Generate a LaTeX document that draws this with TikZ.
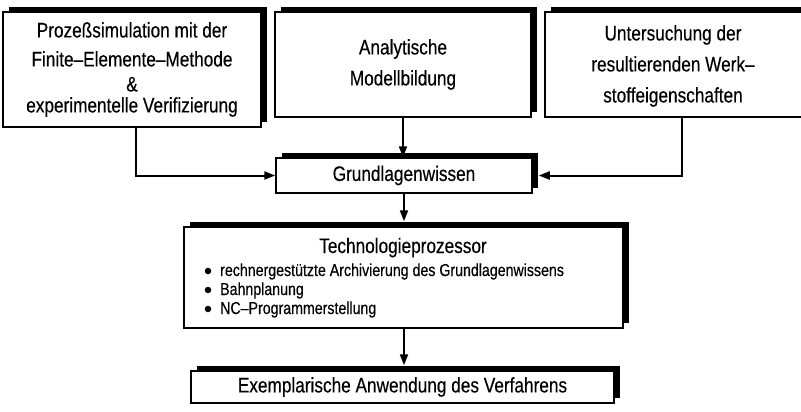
\documentclass[tikz,border=0pt]{standalone}
\usepackage{fontspec}
\setmainfont{Liberation Sans}[FakeStretch=0.82,FakeBold=0.3]
\usetikzlibrary{arrows.meta,shadows}
\begin{document}
\begin{tikzpicture}[x=1pt,y=-1pt,
  box/.style={draw=black, line width=1.5pt, fill=white, inner sep=0pt, align=center,
    drop shadow={shadow xshift=6pt, shadow yshift=5pt, fill=black, opacity=1}},
  big/.style={font=\fontsize{21}{25}\selectfont},
  small/.style={font=\fontsize{17.3}{19}\selectfont, inner sep=0pt},
  dot/.style={circle, fill=black, inner sep=0pt, minimum size=6.5pt},
  arr/.style={line width=2pt, -{Triangle[length=11pt,width=8pt]}}]
\useasboundingbox (0,0) rectangle (801,412);
\clip (0,0) rectangle (801,412);
\fill[white] (0,0) rectangle (801,412);

\node[box,big,minimum width=258pt,minimum height=115pt] (b1) at (132,69.5)
  {Prozeßsimulation mit der\\[4pt] Finite–Elemente–Methode\\ \&\\[-4pt] experimentelle Verifizierung};
\node[box,big,minimum width=256pt,minimum height=105pt] (b2) at (403,64.5)
  {Analytische\\[6pt] Modellbildung};
\node[box,minimum width=274pt,minimum height=105pt] (b3) at (682,64.5) {};
\node[big,align=center] (b3t) at (673,66)
  {Untersuchung der\\[6pt] resultierenden Werk–\\[6pt] stoffeigenschaften};

\node[box,big,minimum width=256pt,minimum height=35pt] (g) at (404,175.5) {Grundlagenwissen};

\node[box,minimum width=439pt,minimum height=101pt] (t) at (403.5,277.5) {};
\node[big,anchor=base,inner sep=0pt] (tt) at (403,253) {Technologieprozessor};
\node[dot] (d1) at (208,271) {};
\node[dot] (d2) at (208,290) {};
\node[dot] (d3) at (208,309) {};
\node[small,anchor=base west] (i1) at (220,276) {rechnergestützte Archivierung des Grundlagenwissens};
\node[small,anchor=base west] (i2) at (220,295) {Bahnplanung};
\node[small,anchor=base west] (i3) at (220,314) {NC–Programmerstellung};

\node[box,big,minimum width=423pt,minimum height=32pt] (e) at (402.5,387)
  {Exemplarische Anwendung des Verfahrens};

\coordinate (c1) at (136,175.5);
\coordinate (c3) at (682,175.5);
\coordinate (tn) at ([yshift=5pt]t.north);
\coordinate (en) at ([yshift=5pt]e.north);
\coordinate (ge) at ([xshift=6pt]g.east);

\draw[arr] (b1.south -| c1) |- (g.west);
\draw[arr] (b2.south) -- (b2.south |- g.north);
\draw[arr] (b3.south -| c3) |- (ge);
\draw[arr] (g.south) -- (g.south |- tn);
\draw[arr] (t.south -| g.south) -- (g.south |- en);
\end{tikzpicture}
\end{document}
